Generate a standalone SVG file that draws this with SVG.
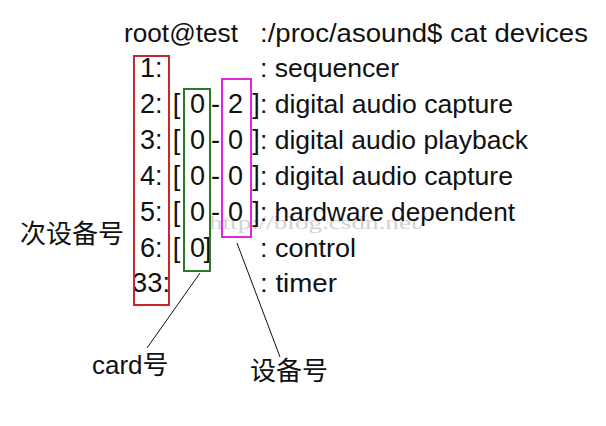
<svg xmlns="http://www.w3.org/2000/svg" width="606" height="426" viewBox="0 0 606 426">
<style>
.t{font-family:"Liberation Sans",Arial,sans-serif;font-size:25px;fill:#111;}
.d{font-size:27px;}
.m{text-anchor:middle;}
.cj{font-family:"Liberation Sans","Noto Sans CJK SC",sans-serif;font-size:26px;fill:#111;}
.wm{font-family:"Liberation Serif",serif;font-size:19px;fill:#d2d2d2;}
.box{fill:none;stroke-width:2;}
.ln{stroke:#111;stroke-width:1;fill:none;}
</style>
<rect width="606" height="426" fill="#ffffff"/>
<g id="watermark"><text class="wm" x="209" y="229" textLength="217" lengthAdjust="spacingAndGlyphs">http://blog.csdn.net/</text></g>
<g id="listing">
<text class="t" x="124" y="42" textLength="114" lengthAdjust="spacingAndGlyphs">root@test</text>
<text class="t" x="260" y="42" textLength="328" lengthAdjust="spacingAndGlyphs">:/proc/asound$ cat devices</text>
<text class="t d" x="140" y="77">1:</text>
<text class="t" x="260" y="77" textLength="139" lengthAdjust="spacingAndGlyphs">: sequencer</text>
<text class="t d" x="140" y="113">2:</text>
<text class="t d m" x="176.5" y="113">[</text><text class="t d m" x="197.5" y="113">0</text><text class="t d m" x="215.5" y="113">-</text><text class="t d m" x="235.5" y="113">2</text><text class="t d m" x="256" y="113">]</text>
<text class="t" x="260" y="113" textLength="253" lengthAdjust="spacingAndGlyphs">: digital audio capture</text>
<text class="t d" x="140" y="149">3:</text>
<text class="t d m" x="176.5" y="149">[</text><text class="t d m" x="197.5" y="149">0</text><text class="t d m" x="215.5" y="149">-</text><text class="t d m" x="235.5" y="149">0</text><text class="t d m" x="256" y="149">]</text>
<text class="t" x="260" y="149" textLength="268" lengthAdjust="spacingAndGlyphs">: digital audio playback</text>
<text class="t d" x="140" y="185">4:</text>
<text class="t d m" x="176.5" y="185">[</text><text class="t d m" x="197.5" y="185">0</text><text class="t d m" x="215.5" y="185">-</text><text class="t d m" x="235.5" y="185">0</text><text class="t d m" x="256" y="185">]</text>
<text class="t" x="260" y="185" textLength="253" lengthAdjust="spacingAndGlyphs">: digital audio capture</text>
<text class="t d" x="140" y="221">5:</text>
<text class="t d m" x="176.5" y="221">[</text><text class="t d m" x="197.5" y="221">0</text><text class="t d m" x="215.5" y="221">-</text><text class="t d m" x="235.5" y="221">0</text><text class="t d m" x="256" y="221">]</text>
<text class="t" x="260" y="221" textLength="255" lengthAdjust="spacingAndGlyphs">: hardware dependent</text>
<text class="t d" x="140" y="257">6:</text>
<text class="t d m" x="176.5" y="257">[</text><text class="t d m" x="197.5" y="257">0</text><text class="t d m" x="207.5" y="257">]</text>
<text class="t" x="260" y="257" textLength="96" lengthAdjust="spacingAndGlyphs">: control</text>
<text class="t d" x="132" y="292" textLength="38" lengthAdjust="spacingAndGlyphs">33:</text>
<text class="t" x="260" y="292" textLength="77" lengthAdjust="spacingAndGlyphs">: timer</text>
</g>
<g id="minor-box"><rect class="box" x="134" y="56" width="35" height="249" stroke="#c8282a"/></g>
<g id="card-box"><rect class="box" x="184" y="89" width="26" height="182" stroke="#2a7a2a"/></g>
<g id="device-box"><rect class="box" x="222" y="79" width="29" height="158" stroke="#e026e0"/></g>
<g id="connectors">
<line class="ln" x1="200" y1="273" x2="147" y2="348"/>
<line class="ln" x1="237" y1="243" x2="280" y2="357"/>
</g>
<g id="label-minor"><text class="cj" x="20" y="243">次设备号</text></g>
<g id="label-card"><text class="cj" x="92" y="374">card号</text></g>
<g id="label-device"><text class="cj" x="250" y="380">设备号</text></g>
</svg>
